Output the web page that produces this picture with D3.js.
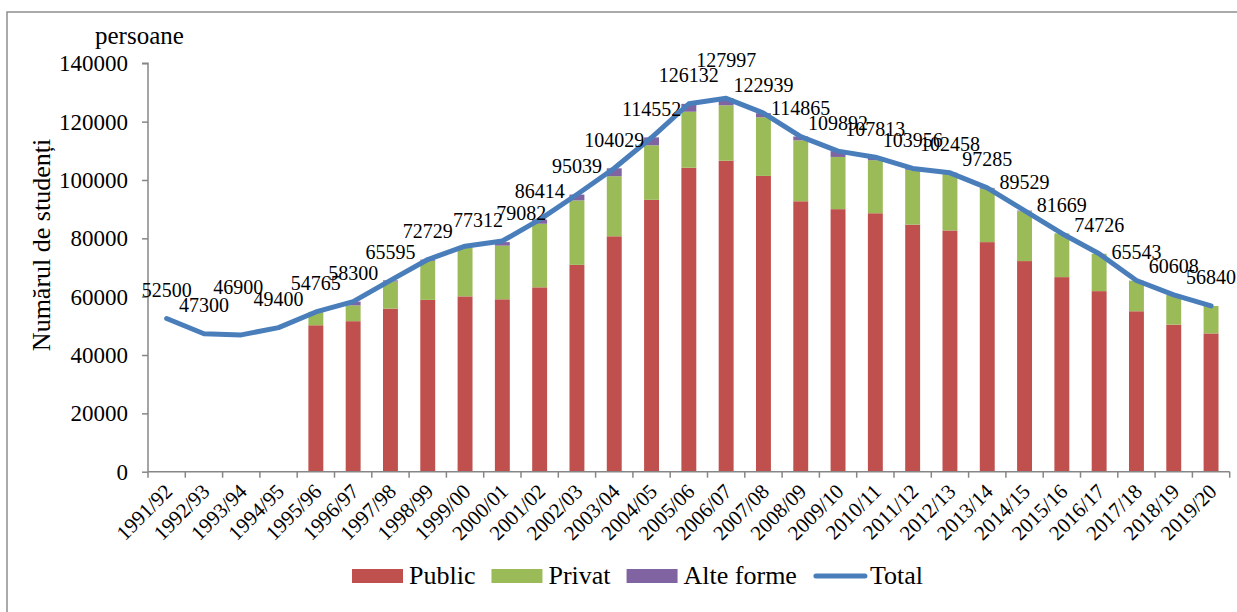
<!DOCTYPE html>
<html>
<head>
<meta charset="utf-8">
<script src="https://cdn.jsdelivr.net/npm/d3@7"></script>
<style>
  html, body { margin: 0; padding: 0; background: #fff; }
  svg text { font-family: "Liberation Serif", "Times New Roman", serif; fill: #000; }
</style>
</head>
<body>
<div id="chart"></div>
<script>
// anii universitari
const years = ["1991/92","1992/93","1993/94","1994/95","1995/96","1996/97","1997/98","1998/99","1999/00","2000/01",
  "2001/02","2002/03","2003/04","2004/05","2005/06","2006/07","2007/08","2008/09","2009/10","2010/11",
  "2011/12","2012/13","2013/14","2014/15","2015/16","2016/17","2017/18","2018/19","2019/20"];

const total = [52500,47300,46900,49400,54765,58300,65595,72729,77312,79082,
  86414,95039,104029,114552,126132,127997,122939,114865,109892,107813,
  103956,102458,97285,89529,81669,74726,65543,60608,56840];

// bare stivuite (valori estimate din grafic, nu exista pentru 1991-1995)
const publicVals = [0,0,0,0,50200,51600,55900,58900,60100,59100,
  63200,70900,80700,93200,104200,106600,101400,92700,90000,88600,
  84700,82700,78700,72200,66700,61900,55000,50400,47400];
const privatVals = [0,0,0,0,4600,5400,9300,13400,16800,18400,
  21800,22100,20600,18700,19200,19000,20100,20900,17900,18200,
  18800,19300,18300,17100,15000,12800,10500,10200,9400];
const alteVals = [0,0,0,0,0,1300,400,400,400,1200,
  1400,2000,2700,2700,2700,2400,1400,1300,2000,1000,
  500,500,300,200,0,0,0,0,0];

const yTicks = [0,20000,40000,60000,80000,100000,120000,140000];

const seriesNames = ["Public","Privat","Alte forme"];
const seriesColors = ["#C0504D","#9BBB59","#8064A2"];
const lineColor = "#4A7EBB";

const width = 1237, height = 612;
const margin = { left: 148, top: 63.3, bottom: 471.7 };
const plotRight = 148 + 29 * 37.3;

const svg = d3.select("#chart").append("svg")
  .attr("width", width)
  .attr("height", height);

// cadru
svg.append("rect")
  .attr("x", 7).attr("y", 12)
  .attr("width", width + 10).attr("height", height + 10)
  .attr("fill", "none")
  .attr("stroke", "#8f8f8f")
  .attr("stroke-width", 1.5);

const x = d3.scaleBand()
  .domain(years)
  .range([margin.left, plotRight])
  .paddingInner(0.6)
  .paddingOuter(0.3);

const y = d3.scaleLinear()
  .domain([0, 140000])
  .range([margin.bottom, margin.top]);

const rows = years.map((yr, i) => ({
  year: yr,
  "Public": publicVals[i],
  "Privat": privatVals[i],
  "Alte forme": alteVals[i]
}));

const stacked = d3.stack().keys(seriesNames)(rows);

svg.append("g").selectAll("g")
  .data(stacked)
  .enter().append("g")
  .attr("fill", (d, i) => seriesColors[i])
  .selectAll("rect")
  .data(d => d.filter(p => p[1] > p[0]))
  .enter().append("rect")
  .attr("x", d => x(d.data.year))
  .attr("width", x.bandwidth())
  .attr("y", d => y(d[1]))
  .attr("height", d => y(d[0]) - y(d[1]));

// axa Y
const yAxis = svg.append("g")
  .attr("transform", `translate(${margin.left},0)`)
  .call(d3.axisLeft(y).tickValues(yTicks).tickSize(6).tickPadding(14).tickFormat(d => d));
yAxis.selectAll("text").style("font-size", "23px");
yAxis.selectAll("line, path").attr("stroke", "#868686").attr("stroke-width", 1.5);
yAxis.select(".domain").attr("d", `M-6,${margin.top}H0V${margin.bottom}`);

// axa X
const step = x.step();
const xAxis = svg.append("g")
  .attr("transform", `translate(0,${margin.bottom})`)
  .call(d3.axisBottom(x).tickSize(0).tickPadding(0));
xAxis.select(".domain").attr("d", `M${margin.left},0H${plotRight}`)
  .attr("stroke", "#868686").attr("stroke-width", 1.5);
xAxis.selectAll("text")
  .style("font-size", "21px")
  .attr("text-anchor", "end")
  .attr("dy", 0)
  .attr("transform", "translate(7,21) rotate(-45)");
xAxis.append("g").selectAll("line")
  .data(d3.range(years.length + 1))
  .enter().append("line")
  .attr("x1", i => margin.left + i * step)
  .attr("x2", i => margin.left + i * step)
  .attr("y1", 0).attr("y2", 6)
  .attr("stroke", "#868686").attr("stroke-width", 1.5);

// linia Total
const cx = yr => x(yr) + x.bandwidth() / 2;
svg.append("path")
  .datum(total)
  .attr("fill", "none")
  .attr("stroke", lineColor)
  .attr("stroke-width", 5)
  .attr("stroke-linejoin", "round")
  .attr("stroke-linecap", "round")
  .attr("d", d3.line().x((d, i) => cx(years[i])).y(d => y(d)));

// etichete
const labelNudge = { "1993/94": [-3, -19], "2006/07": [0, -10], "1999/00": [13, 2], "2000/01": [19, 0] };
svg.append("g").selectAll("text")
  .data(total)
  .enter().append("text")
  .attr("text-anchor", "middle")
  .style("font-size", "20px")
  .attr("x", (d, i) => cx(years[i]) + (labelNudge[years[i]] ? labelNudge[years[i]][0] : 0))
  .attr("y", (d, i) => y(d) - 21.5 + (labelNudge[years[i]] ? labelNudge[years[i]][1] : 0))
  .text(d => d);

// titluri
svg.append("text")
  .attr("x", 95).attr("y", 44)
  .style("font-size", "25px")
  .text("persoane");

svg.append("text")
  .attr("transform", "translate(50,245) rotate(-90)")
  .attr("text-anchor", "middle")
  .style("font-size", "26px")
  .text("Numărul de studenți");

// legenda
const legend = svg.append("g").attr("transform", "translate(352,576)");
const legendItems = seriesNames.map((n, i) => ({ name: n, color: seriesColors[i], type: "rect" }))
  .concat([{ name: "Total", color: lineColor, type: "line" }]);
let lx = 0;
legendItems.forEach(item => {
  if (item.type === "rect") {
    legend.append("rect")
      .attr("x", lx).attr("y", -7)
      .attr("width", 51).attr("height", 14)
      .attr("fill", item.color);
  } else {
    legend.append("line")
      .attr("x1", lx + 3).attr("x2", lx + 52)
      .attr("y1", 0).attr("y2", 0)
      .attr("stroke", item.color)
      .attr("stroke-width", 5)
      .attr("stroke-linecap", "round");
  }
  const t = legend.append("text")
    .attr("x", lx + 57).attr("y", 8)
    .style("font-size", "26px")
    .text(item.name);
  lx += 57 + t.node().getComputedTextLength() + 16;
});
</script>
</body>
</html>
